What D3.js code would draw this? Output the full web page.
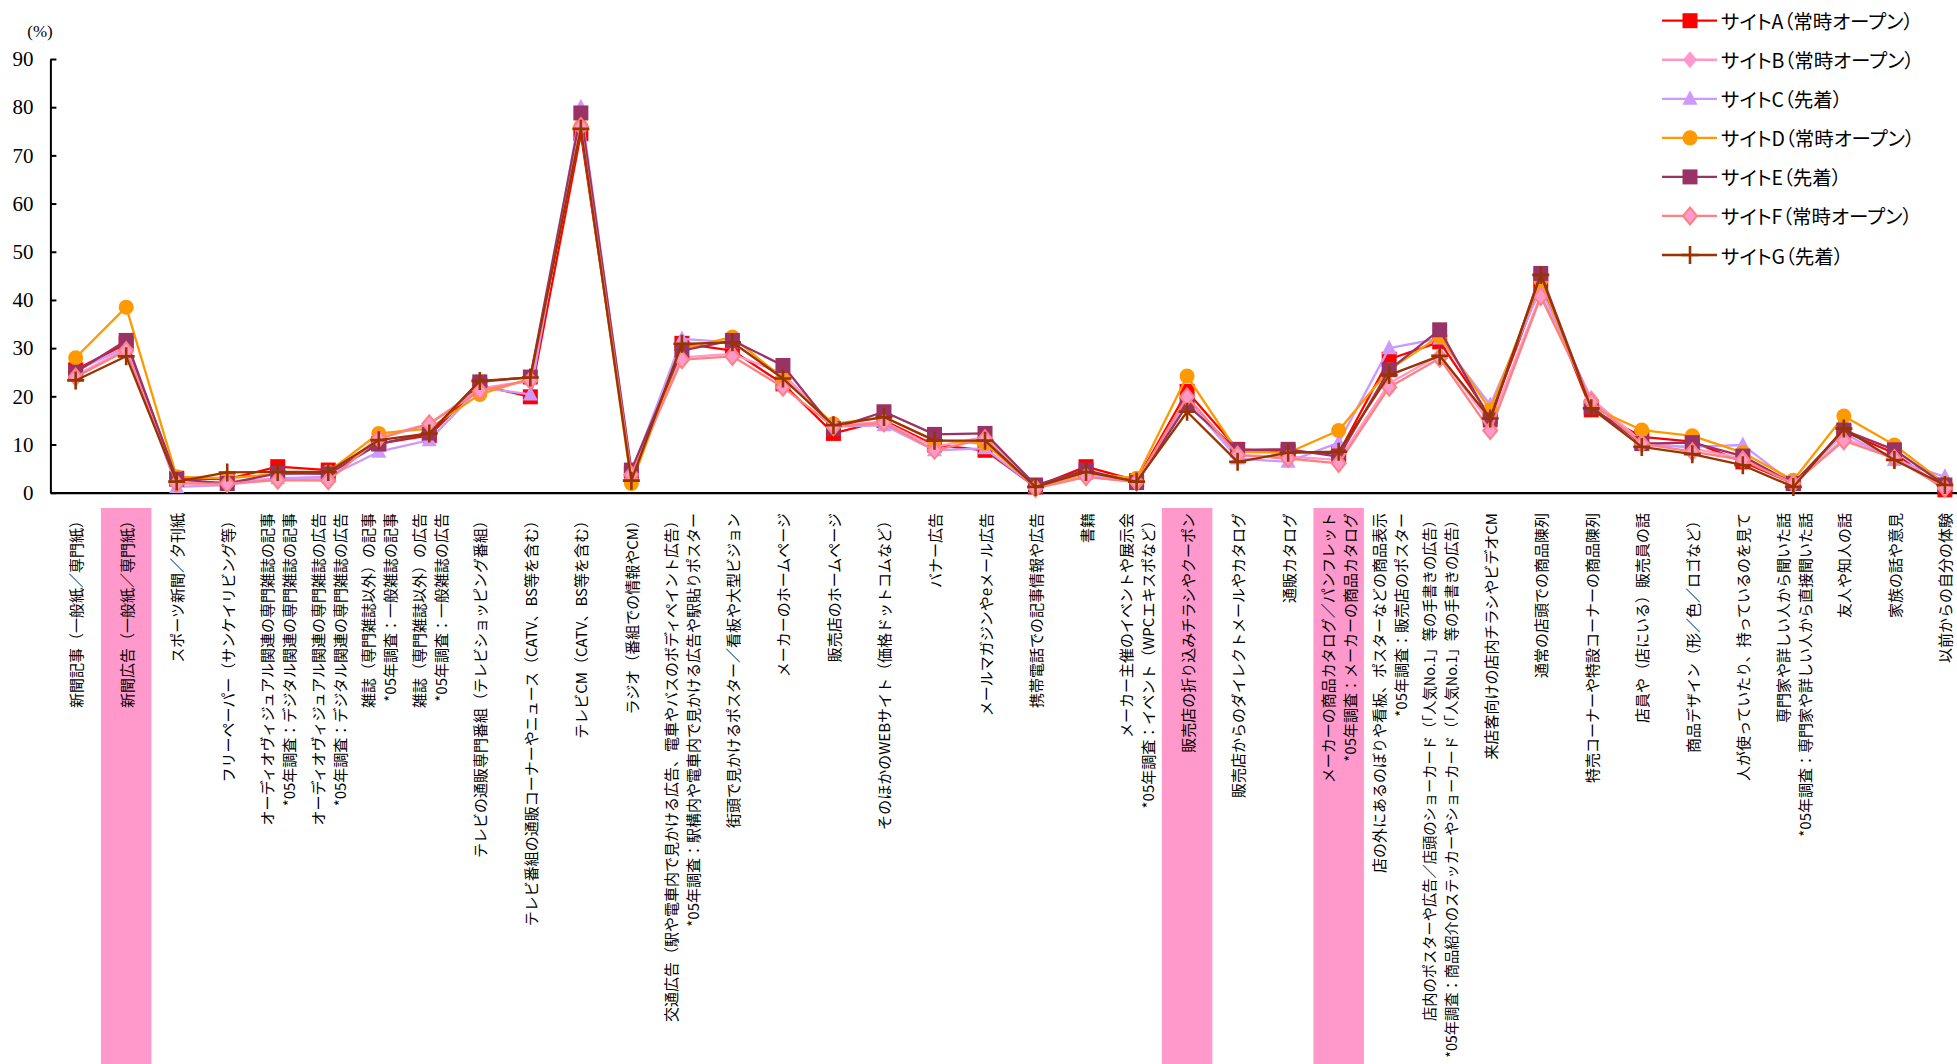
<!DOCTYPE html>
<html>
<head>
<meta charset="utf-8">
<script src="https://cdn.jsdelivr.net/npm/d3@7"></script>
<style>
  html, body { margin: 0; padding: 0; background: #fff; }
  svg { display: block; }
  .cat-label {
    font-family: "Noto Sans CJK JP", "Noto Sans", sans-serif;
    fill: #000;
  }
  .legend-label {
    font-family: "Noto Sans CJK JP", "Noto Sans", sans-serif;
    font-feature-settings: "palt";
    fill: #000;
  }
</style>
</head>
<body>
<svg id="chart" width="1957" height="1064"></svg>
<script>
// Information sources (each label may have a second line with the 2005 survey wording)
const categories = [
  ["新聞記事（一般紙／専門紙）"],
  ["新聞広告（一般紙／専門紙）"],
  ["スポーツ新聞／夕刊紙"],
  ["フリーペーパー（サンケイリビング等）"],
  ["オーディオヴィジュアル関連の専門雑誌の記事", "*05年調査：デジタル関連の専門雑誌の記事"],
  ["オーディオヴィジュアル関連の専門雑誌の広告", "*05年調査：デジタル関連の専門雑誌の広告"],
  ["雑誌（専門雑誌以外）の記事", "*05年調査：一般雑誌の記事"],
  ["雑誌（専門雑誌以外）の広告", "*05年調査：一般雑誌の広告"],
  ["テレビの通販専門番組（テレビショッピング番組）"],
  ["テレビ番組の通販コーナーやニュース（CATV、BS等を含む）"],
  ["テレビCM（CATV、BS等を含む）"],
  ["ラジオ（番組での情報やCM）"],
  ["交通広告（駅や電車内で見かける広告、電車やバスのボディペイント広告）", "*05年調査：駅構内や電車内で見かける広告や駅貼りポスター"],
  ["街頭で見かけるポスター／看板や大型ビジョン"],
  ["メーカーのホームページ"],
  ["販売店のホームページ"],
  ["そのほかのWEBサイト（価格ドットコムなど）"],
  ["バナー広告"],
  ["メールマガジンやeメール広告"],
  ["携帯電話での記事情報や広告"],
  ["書籍"],
  ["メーカー主催のイベントや展示会", "*05年調査：イベント（WPCエキスポなど）"],
  ["販売店の折り込みチラシやクーポン"],
  ["販売店からのダイレクトメールやカタログ"],
  ["通販カタログ"],
  ["メーカーの商品カタログ／パンフレット", "*05年調査：メーカーの商品カタログ"],
  ["店の外にあるのぼりや看板、ポスターなどの商品表示", "*05年調査：販売店のポスター"],
  ["店内のポスターや広告／店頭のショーカード（「人気No.1」等の手書きの広告）", "*05年調査：商品紹介のステッカーやショーカード（「人気No.1」等の手書きの広告）"],
  ["来店客向けの店内チラシやビデオCM"],
  ["通常の店頭での商品陳列"],
  ["特売コーナーや特設コーナーの商品陳列"],
  ["店員や（店にいる）販売員の話"],
  ["商品デザイン（形／色／ロゴなど）"],
  ["人が使っていたり、持っているのを見て"],
  ["専門家や詳しい人から聞いた話", "*05年調査：専門家や詳しい人から直接聞いた話"],
  ["友人や知人の話"],
  ["家族の話や意見"],
  ["以前からの自分の体験"]
];

// Categories shaded in the label area (by position in the list above)
const highlightedCategories = [1, 22, 25];

const seriesNames = [
  "サイトA（常時オープン）",
  "サイトB（常時オープン）",
  "サイトC（先着）",
  "サイトD（常時オープン）",
  "サイトE（先着）",
  "サイトF（常時オープン）",
  "サイトG（先着）"
];

// Percentages per category, in category order
const siteA = [25.5, 30.9, 3.0, 2.8, 5.4, 4.7, 10.2, 11.9, 22.3, 19.9, 74.5, 4.0, 31.0, 29.5, 22.6, 12.3, 15.0, 9.9, 8.8, 1.2, 5.4, 2.5, 21.0, 9.0, 8.5, 8.2, 27.7, 31.3, 15.8, 43.4, 17.2, 11.6, 10.6, 6.4, 1.9, 12.7, 8.2, 0.6];
const siteB = [24.3, 29.9, 2.1, 2.3, 3.0, 2.8, 11.6, 14.3, 21.6, 23.3, 76.5, 3.7, 28.1, 28.8, 24.7, 14.0, 14.7, 9.5, 11.6, 1.2, 3.3, 2.3, 19.9, 7.8, 7.5, 6.8, 22.7, 28.6, 14.4, 41.0, 19.6, 10.6, 9.2, 7.1, 1.9, 11.3, 7.5, 1.2];
const siteC = [25.3, 30.2, 1.2, 1.6, 3.0, 3.3, 8.5, 10.9, 21.8, 20.4, 80.0, 4.0, 31.9, 31.2, 24.0, 13.7, 14.0, 8.8, 9.2, 1.2, 3.9, 2.3, 19.2, 7.1, 6.4, 10.4, 30.0, 32.0, 18.2, 42.4, 19.2, 9.9, 9.5, 9.9, 1.9, 12.3, 6.8, 3.3];
const siteD = [28.0, 38.5, 3.3, 3.0, 3.9, 4.3, 12.3, 13.3, 20.4, 23.7, 76.0, 1.9, 29.9, 32.3, 23.7, 14.3, 15.7, 10.9, 10.2, 1.2, 4.0, 3.0, 24.2, 8.5, 8.3, 12.9, 25.5, 32.5, 17.2, 44.1, 17.8, 13.0, 11.8, 8.3, 2.6, 15.9, 9.9, 1.9];
const siteE = [25.0, 31.6, 2.8, 1.9, 4.0, 3.9, 10.1, 12.4, 23.0, 24.0, 78.8, 4.7, 29.5, 31.6, 26.4, 13.3, 16.8, 12.1, 12.3, 1.6, 4.7, 2.1, 18.2, 8.9, 9.0, 7.5, 25.5, 33.8, 15.1, 45.5, 17.8, 10.2, 10.4, 7.6, 1.9, 13.0, 8.9, 1.6];
const siteF = [24.0, 29.5, 1.9, 1.9, 2.6, 2.5, 11.2, 14.3, 21.2, 23.3, 76.0, 3.7, 27.6, 28.3, 21.9, 13.7, 14.5, 8.8, 11.2, 0.9, 3.3, 2.2, 19.9, 7.8, 7.1, 6.1, 21.9, 27.9, 12.9, 40.7, 18.9, 10.2, 8.5, 6.8, 1.9, 10.8, 7.1, 0.9];
const siteG = [23.3, 28.3, 2.3, 4.2, 4.3, 4.3, 10.9, 12.3, 23.2, 23.9, 75.5, 2.5, 30.9, 31.2, 23.7, 14.0, 15.7, 10.8, 10.8, 1.2, 4.3, 2.3, 16.8, 6.4, 8.3, 8.5, 24.4, 28.4, 15.4, 45.2, 17.5, 9.5, 8.0, 5.7, 1.2, 13.3, 6.8, 1.6];

const yTicks = [0, 10, 20, 30, 40, 50, 60, 70, 80, 90];
const unitLabel = "(%)";

// ---- styling ----
const seriesValues = [siteA, siteB, siteC, siteD, siteE, siteF, siteG];
const seriesColors = ["#FF0000", "#FF99CC", "#CC99FF", "#FF9900", "#993366", "#FF8080", "#993300"];
const seriesMarkers = ["square", "diamond", "triangle", "circle", "square", "diamondOutline", "plus"];
const highlightColor = "#FF99CC";
const serif = "'Liberation Serif', 'Times New Roman', serif";

const W = 1957, H = 1064;
const plot = { left: 50.4, top: 59, bottom: 492.7 };
const bandStep = 50.52;

const svg = d3.select("#chart");
svg.append("rect").attr("width", W).attr("height", H).attr("fill", "#fff");

const x = d3.scaleBand()
  .domain(d3.range(categories.length))
  .range([plot.left, plot.left + bandStep * categories.length])
  .paddingInner(0).paddingOuter(0);
const xc = i => x(i) + x.bandwidth() / 2;

const y = d3.scaleLinear().domain([0, 90]).range([plot.bottom, plot.top]);

// shaded label bands
svg.append("g").selectAll("rect")
  .data(highlightedCategories)
  .join("rect")
  .attr("x", i => x(i))
  .attr("y", 508)
  .attr("width", x.bandwidth())
  .attr("height", H - 508)
  .attr("fill", highlightColor);

// category labels, rotated to read bottom-to-top, ending just under the axis
const labelTop = 513;
const lineOffset = 11;
const labelSize = 15;
const labels = svg.append("g").selectAll("text")
  .data(categories)
  .join("text")
  .attr("class", "cat-label")
  .attr("transform", (d, i) => `translate(${xc(i)},${labelTop}) rotate(-90)`)
  .attr("text-anchor", "end")
  .attr("font-size", labelSize);
labels.each(function (lines) {
  const t = d3.select(this);
  lines.forEach((line, k) => {
    const off = lines.length === 1 ? 0 : (k === 0 ? -lineOffset : lineOffset);
    t.append("tspan")
      .attr("x", 0)
      .attr("y", off)
      .attr("dominant-baseline", "central")
      .text(line);
  });
  // shrink a label that would run past the bottom edge
  const room = H - labelTop - 6;
  const longest = d3.max(t.selectAll("tspan").nodes(), n => n.getComputedTextLength());
  if (longest > room) t.attr("font-size", labelSize * room / longest);
});

// y axis with inward ticks
const yAxis = svg.append("g")
  .attr("transform", `translate(${plot.left},0)`)
  .call(d3.axisLeft(y).tickValues(yTicks).tickSize(-6).tickSizeOuter(0).tickPadding(17));
yAxis.attr("font-family", serif);
yAxis.select(".domain").attr("stroke", "#000").attr("stroke-width", 2);
yAxis.selectAll(".tick line").attr("stroke", "#000").attr("stroke-width", 2);
yAxis.selectAll(".tick text")
  .attr("font-family", serif)
  .attr("font-size", 21)
  .attr("fill", "#000");

svg.append("text")
  .attr("x", 40)
  .attr("y", 31)
  .attr("text-anchor", "middle")
  .attr("dominant-baseline", "central")
  .attr("font-family", serif)
  .attr("font-size", 17)
  .attr("fill", "#000")
  .text(unitLabel);

// x axis baseline
const xAxis = svg.append("g")
  .attr("transform", `translate(0,${plot.bottom})`)
  .call(d3.axisBottom(x).tickSize(0).tickSizeOuter(0).tickFormat(""));
xAxis.select(".domain").attr("stroke", "#000").attr("stroke-width", 2.2);

// marker shapes
function markerPath(type) {
  switch (type) {
    case "square": return "M-7.5,-7.5H7.5V7.5H-7.5Z";
    case "diamond":
    case "diamondOutline": return "M0,-8.5L7,0L0,8.5L-7,0Z";
    case "triangle": return "M0,-8.5L7.5,6L-7.5,6Z";
    case "circle": return d3.symbol(d3.symbolCircle, Math.PI * 7.5 * 7.5)();
    case "plus": return "M-8.5,0H8.5M0,-9V9";
  }
}
function styleMarker(sel, s) {
  const type = seriesMarkers[s], col = seriesColors[s];
  sel.attr("d", markerPath(type));
  if (type === "plus") {
    sel.attr("fill", "none").attr("stroke", col).attr("stroke-width", 2.6);
  } else if (type === "diamondOutline") {
    sel.attr("fill", "#FF99CC").attr("stroke", col).attr("stroke-width", 2);
  } else {
    sel.attr("fill", col).attr("stroke", "none");
  }
}

const line = d3.line().x((d, i) => xc(i)).y(d => y(d));

// series lines and markers, drawn in order so later sites sit on top
seriesValues.forEach((vals, s) => {
  const g = svg.append("g").attr("class", "series");
  g.append("path")
    .datum(vals)
    .attr("d", line)
    .attr("fill", "none")
    .attr("stroke", seriesColors[s])
    .attr("stroke-width", 2.3)
    .attr("stroke-linejoin", "round");
  g.selectAll("path.marker")
    .data(vals)
    .join("path")
    .attr("class", "marker")
    .attr("transform", (d, i) => `translate(${xc(i)},${y(d)})`)
    .call(styleMarker, s);
});

// legend
const legend = svg.append("g").attr("transform", "translate(1662,20.7)");
const items = legend.selectAll("g")
  .data(seriesNames)
  .join("g")
  .attr("transform", (d, i) => `translate(0,${i * 39.05})`);
items.append("line")
  .attr("x1", 0).attr("x2", 55).attr("y1", 0).attr("y2", 0)
  .attr("stroke", (d, i) => seriesColors[i])
  .attr("stroke-width", 2.3);
items.append("path")
  .attr("transform", "translate(28,0)")
  .each(function (d, i) { d3.select(this).call(styleMarker, i); });
items.append("text")
  .attr("class", "legend-label")
  .attr("x", 59)
  .attr("y", 0)
  .attr("dominant-baseline", "central")
  .attr("font-size", 19.5)
  .text(d => d);
</script>
</body>
</html>
